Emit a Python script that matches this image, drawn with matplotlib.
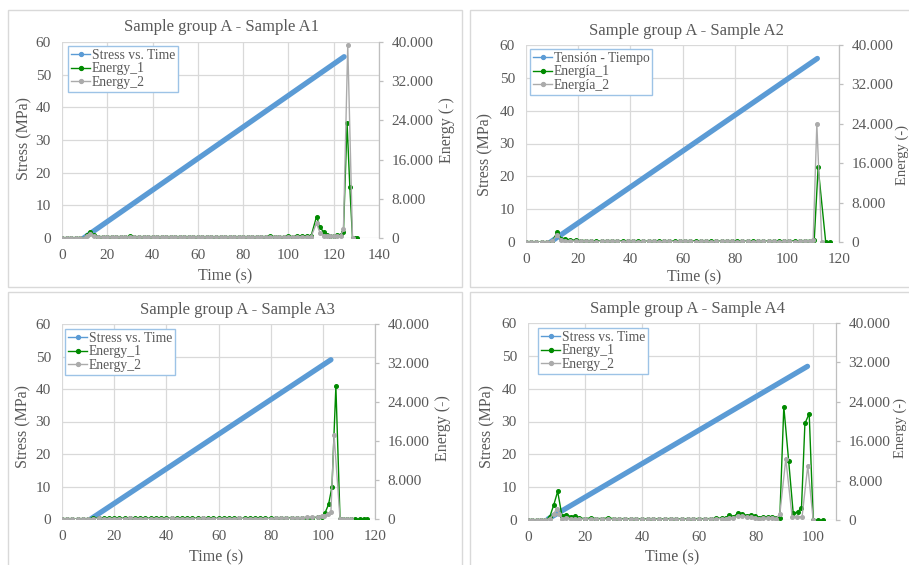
import matplotlib
matplotlib.use("Agg")
import matplotlib.pyplot as plt
from matplotlib.lines import Line2D
from matplotlib.patches import Rectangle
from matplotlib.ticker import FuncFormatter, MultipleLocator

plt.rcParams["font.family"] = ["Liberation Serif", "DejaVu Serif"]

# ---- data ----
# Sample A1
a1_stress_time = [9.6, 124.6]
a1_stress = [0, 55.5]
a1_time_1 = [0, 2, 4, 6, 8, 10, 11.2, 12.5, 14, 16,
             18, 20, 22, 24, 26, 28, 30, 32, 34, 36,
             38, 40, 42, 44, 46, 48, 50, 52, 54, 56,
             58, 60, 62, 64, 66, 68, 70, 72, 74, 76,
             78, 80, 82, 84, 86, 88, 90, 92, 94, 96,
             98, 100, 102, 104, 106, 108, 110, 112.4, 114, 115.5,
             117, 118.5, 120, 121.5, 123, 124.3, 125.9, 127.1, 128.3, 129.2,
             130.4]
a1_energy_1 = [0, 0, 0, 0, 0, 0, 700, 1250, 600, 300,
               250, 300, 250, 200, 250, 200, 350, 250, 200, 200,
               250, 200, 200, 250, 200, 300, 250, 200, 300, 250,
               200, 250, 200, 250, 200, 250, 200, 200, 250, 200,
               200, 200, 250, 200, 300, 250, 300, 350, 300, 300,
               250, 350, 300, 400, 350, 450, 400, 4350, 2200, 1200,
               700, 500, 450, 550, 600, 1300, 23500, 10500, 0, 0,
               0]
a1_time_2 = [0, 2, 4, 6, 8, 10, 11.2, 12.5, 14, 16,
             18, 20, 22, 24, 26, 28, 30, 32, 34, 36,
             38, 40, 42, 44, 46, 48, 50, 52, 54, 56,
             58, 60, 62, 64, 66, 68, 70, 72, 74, 76,
             78, 80, 82, 84, 86, 88, 90, 92, 94, 96,
             98, 100, 102, 104, 106, 108, 110, 112.4, 114, 115.5,
             117, 118.5, 120, 121.5, 123, 124.3, 126.2, 128.3]
a1_energy_2 = [0, 0, 0, 0, 0, 0, 500, 900, 400, 200,
               150, 200, 150, 150, 200, 150, 250, 150, 150, 150,
               200, 150, 150, 200, 150, 200, 150, 150, 200, 150,
               150, 200, 150, 200, 150, 200, 150, 150, 200, 150,
               150, 150, 200, 150, 200, 200, 250, 250, 200, 250,
               200, 250, 250, 300, 250, 300, 300, 3000, 1000, 500,
               450, 400, 400, 450, 500, 1800, 39400, 0]

# Sample A2
a2_stress_time = [9.4, 111.7]
a2_stress = [0, 55.9]
a2_time_1 = [0, 2, 4, 6, 8, 10, 12, 13.5, 15, 17,
             19, 21, 23, 25, 27, 29, 31, 33, 35, 37,
             39, 41, 43, 45, 47, 49, 51, 53, 55, 57,
             59, 61, 63, 65, 67, 69, 71, 73, 75, 77,
             79, 81, 83, 85, 87, 89, 91, 93, 95, 97,
             99, 101, 103, 105, 107, 109, 110.5, 112, 114.9, 116.4]
a2_energy_1 = [0, 0, 0, 0, 0, 100, 2000, 700, 700, 400,
               400, 300, 300, 250, 250, 200, 250, 300, 250, 200,
               200, 200, 250, 200, 200, 250, 200, 250, 200, 200,
               250, 200, 200, 250, 200, 200, 250, 200, 200, 200,
               200, 250, 200, 200, 250, 200, 200, 250, 200, 200,
               250, 200, 250, 200, 300, 300, 400, 15200, 0, 0]
a2_time_2 = [0, 2, 4, 6, 8, 10, 12, 13.5, 15, 17,
             19, 21, 23, 25, 27, 29, 31, 33, 35, 37,
             39, 41, 43, 45, 47, 49, 51, 53, 55, 57,
             59, 61, 63, 65, 67, 69, 71, 73, 75, 77,
             79, 81, 83, 85, 87, 89, 91, 93, 95, 97,
             99, 101, 103, 105, 107, 109, 110.1, 111.5, 113.4]
a2_energy_2 = [0, 0, 0, 0, 0, 200, 1400, 400, 300, 200,
               150, 150, 200, 150, 100, 150, 150, 200, 150, 100,
               150, 150, 100, 150, 200, 150, 100, 150, 150, 100,
               150, 200, 150, 100, 150, 150, 100, 150, 150, 200,
               150, 100, 150, 150, 100, 150, 150, 200, 150, 100,
               150, 150, 100, 150, 200, 250, 500, 23900, 0]

# Sample A3
a3_stress_time = [11.0, 103.1]
a3_stress = [0, 49.0]
a3_time_1 = [0, 2, 4, 6, 8, 10, 12, 14, 16, 18,
             20, 22, 24, 26, 28, 30, 32, 34, 36, 38,
             40, 42, 44, 46, 48, 50, 52, 54, 56, 58,
             60, 62, 64, 66, 68, 70, 72, 74, 76, 78,
             80, 82, 84, 86, 88, 90, 92, 94, 96, 98,
             99.5, 100.8, 102.2, 103.5, 105.0, 106.6, 107.9, 109.4, 110.8,
             112.4, 114.1, 115.6, 116.8]
a3_energy_1 = [0, 0, 0, 0, 0, 0, 200, 250, 200, 200,
               150, 200, 150, 150, 200, 150, 150, 200, 200, 150,
               150, 200, 150, 150, 150, 200, 150, 150, 150, 150,
               150, 150, 200, 150, 150, 150, 150, 150, 200, 150,
               150, 150, 200, 250, 300, 250, 200, 250, 300, 350,
               400, 1200, 3000, 6600, 27200, 0, 0, 0, 0,
               0, 0, 0, 0]
a3_time_2 = [0, 2, 4, 6, 8, 10, 12, 14, 16, 18,
             20, 22, 24, 26, 28, 30, 32, 34, 36, 38,
             40, 42, 44, 46, 48, 50, 52, 54, 56, 58,
             60, 62, 64, 66, 68, 70, 72, 74, 76, 78,
             80, 82, 84, 86, 88, 90, 92, 94, 96, 98,
             99.5, 100.6, 101.8, 103.1, 104.3, 106.6, 107.9, 109.4, 110.8]
a3_energy_2 = [0, 0, 0, 0, 0, 0, 100, 150, 100, 100,
               100, 100, 100, 150, 100, 100, 100, 100, 100, 100,
               100, 150, 100, 100, 100, 100, 100, 150, 100, 100,
               100, 100, 100, 100, 150, 100, 100, 100, 100, 100,
               100, 150, 150, 200, 200, 250, 300, 350, 400, 400,
               600, 700, 1000, 1400, 17300, 0, 0, 0, 0]

# Sample A4
a4_stress_time = [7.0, 98.0]
a4_stress = [0.3, 46.8]
a4_time_1 = [0, 1.5, 3, 4.5, 6,
             7.6, 9.0, 10.4, 11.9, 13.4, 15, 16.6,
             18, 20, 22, 24, 26, 28, 30, 32, 34, 36, 38, 40, 42,
             44, 46, 48, 50, 52, 54, 56, 58, 60, 62, 64, 66, 68,
             69.3, 70.6, 72, 73.7, 75.2, 76.7, 78.2, 79.6, 81.1, 82.5, 84, 85.4, 86.9, 88.3,
             89.7, 91.4, 93.0, 94.5, 95.9, 97.1, 98.6, 100.0, 101.8, 103.3]
a4_energy_1 = [0, 0, 0, 0, 0,
               600, 3000, 5800, 900, 1100, 700, 800,
               400, 300, 400, 300, 300, 400, 300, 250, 300, 250, 300, 200, 250,
               250, 200, 250, 300, 250, 200, 250, 250, 300, 250, 300, 350, 400,
               500, 1000, 600, 1500, 1300, 900, 1000, 800, 500, 600, 550, 700, 400, 500,
               23000, 12000, 1360, 1620, 2500, 19600, 21600, 0, 0, 0]
a4_time_2 = [0, 1.5, 3, 4.5, 6,
             7.6, 9.0, 10.0, 11.0, 12.0, 13.4, 15, 16.6,
             18, 20, 22, 24, 26, 28, 30, 32, 34, 36, 38, 40, 42,
             44, 46, 48, 50, 52, 54, 56, 58, 60, 62, 64, 66, 68,
             69.3, 70.6, 72, 73.7, 75.2, 76.7, 78.2, 79.6, 81.1, 82.5, 84, 85.4, 86.9, 88.3,
             90.4, 92.6, 94.4, 96.1, 98.1, 100.0]
a4_energy_2 = [0, 0, 0, 0, 0,
               300, 1200, 2300, 1300, 300, 400, 300, 300,
               200, 200, 150, 200, 150, 200, 150, 150, 200, 150, 150, 150, 150,
               150, 150, 150, 200, 150, 150, 150, 200, 150, 200, 200, 250, 250,
               300, 500, 400, 800, 900, 600, 600, 500, 300, 400, 350, 400, 300, 1200,
               12400, 700, 700, 650, 11000, 0]

titles = ["Sample group A - Sample A1", "Sample group A - Sample A2",
          "Sample group A - Sample A3", "Sample group A - Sample A4"]
legend_en = ["Stress vs. Time", "Energy_1", "Energy_2"]
legend_es = ["Tensión - Tiempo", "Energía_1", "Energía_2"]

# ---- styling ----
W, H = 909, 565
BLUE = "#5B9BD5"
GREEN = "#008A00"
GRAY = "#ABABAB"
TXT = "#595959"
GRID = "#D9D9D9"


def fx(x):
    return x / W


def fy(y):
    return 1 - y / H


fig = plt.figure(figsize=(W / 100, H / 100), dpi=100)

panels = [
    dict(data=(a1_stress_time, a1_stress, a1_time_1, a1_energy_1, a1_time_2, a1_energy_2),
         plot=(62, 42, 379, 238), border=(8, 10, 462, 287), xmax=140,
         title=(222, 27), xlab=(225, 276), ylab=(24, 138), y2lab=(447, 130, 11.5),
         leg=(68, 46), labels=legend_en),
    dict(data=(a2_stress_time, a2_stress, a2_time_1, a2_energy_1, a2_time_2, a2_energy_2),
         plot=(526, 45, 839, 242), border=(470, 10, 930, 287), xmax=120,
         title=(686, 31), xlab=(694, 277), ylab=(485, 155), y2lab=(902, 155, 10.5),
         leg=(530, 49), labels=legend_es),
    dict(data=(a3_stress_time, a3_stress, a3_time_1, a3_energy_1, a3_time_2, a3_energy_2),
         plot=(62, 324, 375, 519), border=(8, 292, 462, 580), xmax=120,
         title=(237, 310), xlab=(216, 557), ylab=(23, 427), y2lab=(443, 428, 11.5),
         leg=(65, 329), labels=legend_en),
    dict(data=(a4_stress_time, a4_stress, a4_time_1, a4_energy_1, a4_time_2, a4_energy_2),
         plot=(528, 323, 836, 520), border=(470, 292, 930, 580), xmax=108,
         title=(687, 309), xlab=(672, 557), ylab=(487, 427), y2lab=(900, 428, 10.5),
         leg=(538, 328), labels=legend_en),
]

thousands = FuncFormatter(lambda v, p: f"{int(round(v)):,}".replace(",", "."))

for i, p in enumerate(panels):
    st, s, t1, e1, t2, e2 = p["data"]
    bx0, by0, bx1, by1 = p["border"]
    fig.add_artist(Rectangle((fx(bx0), fy(by1)), fx(bx1 - bx0), (by1 - by0) / H,
                             transform=fig.transFigure, fill=False, ec=GRID, lw=1))

    l, t, r, b = p["plot"]
    ax = fig.add_axes([fx(l), fy(b), fx(r - l), (b - t) / H])
    ax.plot(st, s, color=BLUE, lw=3.8, solid_capstyle="round")
    ax.set_xlim(0, p["xmax"])
    ax.set_ylim(0, 60)
    ax.xaxis.set_major_locator(MultipleLocator(20))
    ax.yaxis.set_major_locator(MultipleLocator(10))
    ax.grid(True, color=GRID, lw=0.9)
    ax.set_axisbelow(True)
    for sp in ax.spines.values():
        sp.set_visible(False)
    ax.tick_params(axis="both", length=0, labelsize=11, labelcolor=TXT)
    ax.tick_params(axis="x", pad=8)
    ax.tick_params(axis="y", pad=8)

    ax2 = ax.twinx()
    ax2.plot(t1, e1, color=GREEN, lw=1.0, marker="o", ms=2.6)
    ax2.plot(t2, e2, color=GRAY, lw=1.0, marker="o", ms=2.6)
    ax2.set_ylim(0, 40000)
    ax2.yaxis.set_major_locator(MultipleLocator(8000))
    ax2.yaxis.set_major_formatter(thousands)
    for name in ["top", "left", "bottom"]:
        ax2.spines[name].set_visible(False)
    ax2.spines["right"].set_color("#BFBFBF")
    ax2.spines["right"].set_linewidth(0.9)
    ax2.tick_params(axis="y", length=3, width=0.9, color="#BFBFBF", pad=6,
                    labelsize=11, labelcolor=TXT)

    handles = [Line2D([], [], color=BLUE, lw=1.0, marker="o", ms=2.8),
               Line2D([], [], color=GREEN, lw=1.0, marker="o", ms=2.8),
               Line2D([], [], color=GRAY, lw=1.0, marker="o", ms=2.8)]
    leg = ax2.legend(handles, p["labels"], loc="upper left",
                     bbox_to_anchor=(fx(p["leg"][0]), fy(p["leg"][1])),
                     bbox_transform=fig.transFigure, borderaxespad=0,
                     fontsize=9.8, frameon=True, fancybox=False, framealpha=1,
                     edgecolor="#9DC3E6", borderpad=0.2, handlelength=1.45,
                     handletextpad=0.1, labelspacing=0.05, numpoints=1)
    leg.get_frame().set_linewidth(1.0)
    for txt in leg.get_texts():
        txt.set_color(TXT)
    leg.set_zorder(10)

    fig.text(fx(p["title"][0]), fy(p["title"][1]), titles[i],
             ha="center", va="center", fontsize=12, color=TXT)
    fig.text(fx(p["xlab"][0]), fy(p["xlab"][1]), "Time (s)",
             ha="center", va="center", fontsize=11.5, color=TXT)
    fig.text(fx(p["ylab"][0]), fy(p["ylab"][1]), "Stress (MPa)", rotation=90,
             ha="center", va="center", fontsize=11.5, color=TXT)
    fig.text(fx(p["y2lab"][0]), fy(p["y2lab"][1]), "Energy (-)", rotation=90,
             ha="center", va="center", fontsize=p["y2lab"][2], color=TXT)

fig.savefig("out.png", dpi=100)
